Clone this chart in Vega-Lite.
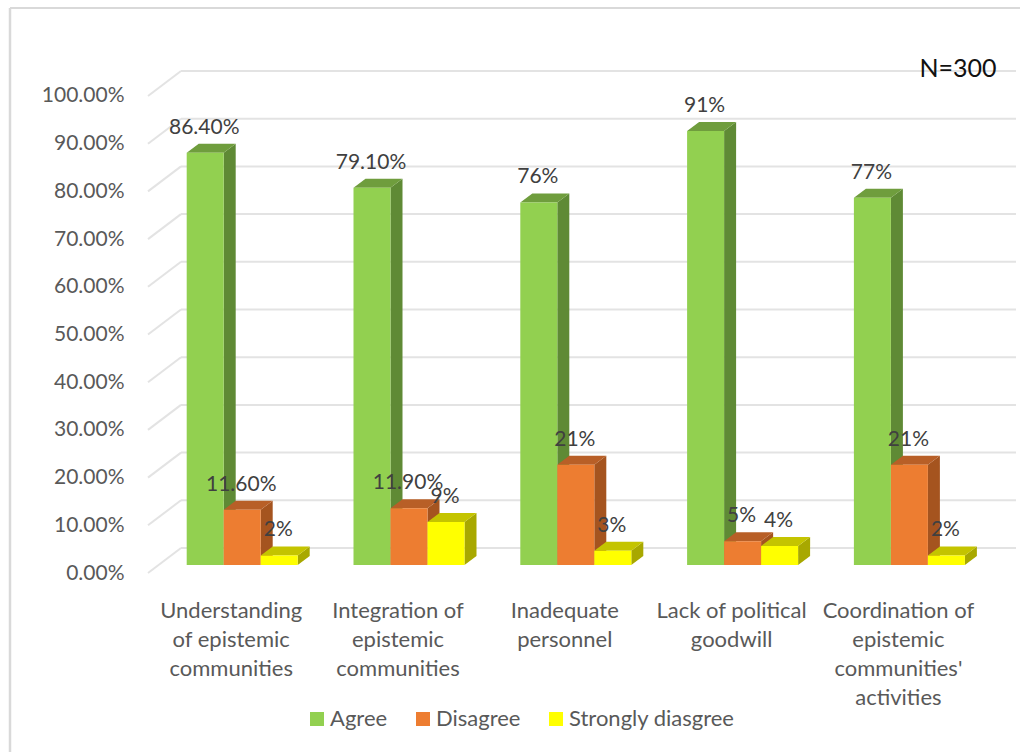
{
  "$schema": "https://vega.github.io/schema/vega-lite/v6.json",
  "width": 868,
  "height": 502,
  "autosize": "none",
  "padding": {"left": 148, "top": 71, "right": 4, "bottom": 180},
  "background": "#ffffff",
  "config": {"view": {"stroke": null}, "font": "Lato"},
  "datasets": {
    "ticks": [
      {"tick": 0}, {"tick": 10}, {"tick": 20}, {"tick": 30}, {"tick": 40}, {"tick": 50},
      {"tick": 60}, {"tick": 70}, {"tick": 80}, {"tick": 90}, {"tick": 100}
    ],
    "shares": [
      {"issue": "Understanding\nof epistemic\ncommunities", "response": "Agree", "share": 86.4, "label": "86.40%"},
      {"issue": "Understanding\nof epistemic\ncommunities", "response": "Disagree", "share": 11.6, "label": "11.60%"},
      {"issue": "Understanding\nof epistemic\ncommunities", "response": "Strongly diasgree", "share": 2, "label": "2%"},
      {"issue": "Integration of\nepistemic\ncommunities", "response": "Agree", "share": 79.1, "label": "79.10%"},
      {"issue": "Integration of\nepistemic\ncommunities", "response": "Disagree", "share": 11.9, "label": "11.90%"},
      {"issue": "Integration of\nepistemic\ncommunities", "response": "Strongly diasgree", "share": 9, "label": "9%"},
      {"issue": "Inadequate\npersonnel", "response": "Agree", "share": 76, "label": "76%"},
      {"issue": "Inadequate\npersonnel", "response": "Disagree", "share": 21, "label": "21%"},
      {"issue": "Inadequate\npersonnel", "response": "Strongly diasgree", "share": 3, "label": "3%"},
      {"issue": "Lack of political\ngoodwill", "response": "Agree", "share": 91, "label": "91%"},
      {"issue": "Lack of political\ngoodwill", "response": "Disagree", "share": 5, "label": "5%"},
      {"issue": "Lack of political\ngoodwill", "response": "Strongly diasgree", "share": 4, "label": "4%"},
      {"issue": "Coordination of\nepistemic\ncommunities'\nactivities", "response": "Agree", "share": 77, "label": "77%"},
      {"issue": "Coordination of\nepistemic\ncommunities'\nactivities", "response": "Disagree", "share": 21, "label": "21%"},
      {"issue": "Coordination of\nepistemic\ncommunities'\nactivities", "response": "Strongly diasgree", "share": 2, "label": "2%"}
    ]
  },
  "data": {"name": "shares"},
  "transform": [
    {"calculate": "indexof(['Und','Int','Ina','Lac','Coo'], substring(datum.issue, 0, 3))", "as": "group"},
    {"calculate": "indexof(['Agree','Disagree','Strongly diasgree'], datum.response)", "as": "slot"},
    {"calculate": "38.7 + 166.8 * datum.group + 37 * datum.slot", "as": "left"},
    {"calculate": "datum.left + 37", "as": "right"},
    {"calculate": "1.677", "as": "floor"},
    {"calculate": "datum.floor + datum.share", "as": "top"},
    {"calculate": "datum.issue + datum.response", "as": "bar"}
  ],
  "layer": [
    {
      "data": {"name": "ticks"},
      "transform": [{"calculate": "datum.tick + 5.24", "as": "wall"}],
      "mark": {"type": "rule", "stroke": "#e3e3e3", "strokeWidth": 2},
      "encoding": {
        "x": {"datum": 0, "type": "quantitative", "scale": {"domain": [0, 868], "nice": false, "zero": false}, "axis": null},
        "x2": {"datum": 33},
        "y": {
          "field": "tick", "type": "quantitative",
          "scale": {"domain": [0, 105.24], "nice": false, "zero": false},
          "axis": {
            "title": null, "domain": false, "ticks": false, "grid": false,
            "values": [0, 10, 20, 30, 40, 50, 60, 70, 80, 90, 100],
            "labelExpr": "format(datum.value, '.2f') + '%'",
            "labelFont": "Lato", "labelFontSize": 21, "labelColor": "#595959", "labelPadding": 24
          }
        },
        "y2": {"field": "wall"}
      }
    },
    {
      "data": {"name": "ticks"},
      "transform": [{"calculate": "datum.tick + 5.24", "as": "wall"}],
      "mark": {"type": "rule", "stroke": "#e3e3e3", "strokeWidth": 2},
      "encoding": {
        "x": {"datum": 33, "type": "quantitative"},
        "x2": {"datum": 868},
        "y": {"field": "wall", "type": "quantitative"}
      }
    },
    {
      "data": {"values": [{"edge": "top"}]},
      "mark": {"type": "rule", "stroke": "#d9d9d9", "strokeWidth": 2, "clip": false},
      "encoding": {
        "x": {"datum": -138, "type": "quantitative"},
        "x2": {"datum": 872},
        "y": {"datum": 118.45, "type": "quantitative"}
      }
    },
    {
      "data": {"values": [{"edge": "left"}]},
      "mark": {"type": "rule", "stroke": "#d9d9d9", "strokeWidth": 2.5, "clip": false},
      "encoding": {
        "x": {"datum": -138, "type": "quantitative"},
        "y": {"datum": 118.45, "type": "quantitative"},
        "y2": {"datum": -37.5}
      }
    },
    {
      "transform": [
        {"calculate": "[0, 1]", "as": "depth"},
        {"flatten": ["depth"]},
        {"calculate": "datum.right + 12 * datum.depth", "as": "sx"},
        {"calculate": "datum.floor + 1.887 * datum.depth", "as": "sy"},
        {"calculate": "datum.top + 1.887 * datum.depth", "as": "sy2"}
      ],
      "mark": {"type": "area", "orient": "vertical"},
      "encoding": {
        "x": {"field": "sx", "type": "quantitative"},
        "y": {"field": "sy", "type": "quantitative"},
        "y2": {"field": "sy2"},
        "detail": {"field": "bar"},
        "color": {
          "field": "response", "type": "nominal", "legend": null,
          "scale": {"domain": ["Agree", "Disagree", "Strongly diasgree"], "range": ["#5f8a35", "#a5541f", "#a8a800"]}
        }
      }
    },
    {
      "transform": [
        {"calculate": "[0, 1]", "as": "depth"},
        {"flatten": ["depth"]},
        {"calculate": "datum.left + 12 * datum.depth", "as": "tx"},
        {"calculate": "datum.right + 12 * datum.depth", "as": "tx2"},
        {"calculate": "datum.top + 1.887 * datum.depth", "as": "ty"}
      ],
      "mark": {"type": "area", "orient": "horizontal"},
      "encoding": {
        "y": {"field": "ty", "type": "quantitative"},
        "x": {"field": "tx", "type": "quantitative"},
        "x2": {"field": "tx2"},
        "detail": {"field": "bar"},
        "color": {
          "field": "response", "type": "nominal", "legend": null,
          "scale": {"domain": ["Agree", "Disagree", "Strongly diasgree"], "range": ["#6f9d3d", "#b85f27", "#c4c400"]}
        }
      }
    },
    {
      "mark": {"type": "rect"},
      "encoding": {
        "x": {"field": "left", "type": "quantitative"},
        "x2": {"field": "right"},
        "y": {"field": "floor", "type": "quantitative"},
        "y2": {"field": "top"},
        "color": {
          "field": "response", "type": "nominal",
          "scale": {"domain": ["Agree", "Disagree", "Strongly diasgree"], "range": ["#92d050", "#ed7d31", "#ffff00"]},
          "legend": {
            "title": null, "orient": "none", "direction": "horizontal", "columns": 3,
            "legendX": 158, "legendY": 637, "symbolType": "square", "symbolSize": 196,
            "symbolStrokeWidth": 0, "labelFont": "Lato", "labelFontSize": 22, "labelColor": "#595959",
            "labelOffset": 2, "labelLimit": 400, "columnPadding": 24, "padding": 0
          }
        }
      }
    },
    {
      "mark": {"type": "text", "fontSize": 21, "color": "#404040", "baseline": "middle", "align": "center", "dy": -25, "dx": 17.5, "clip": false},
      "encoding": {
        "x": {"field": "left", "type": "quantitative"},
        "y": {"field": "top", "type": "quantitative"},
        "text": {"field": "label"}
      }
    },
    {
      "transform": [{"filter": "datum.slot === 0"}],
      "mark": {"type": "text", "fontSize": 22, "color": "#595959", "baseline": "middle", "align": "center", "dx": 44.5, "dy": 38, "lineBreak": "\n", "lineHeight": 29, "clip": false},
      "encoding": {
        "x": {"field": "left", "type": "quantitative"},
        "y": {"datum": 0, "type": "quantitative"},
        "text": {"field": "issue"}
      }
    },
    {
      "data": {"values": [{"note": "N=300"}]},
      "mark": {"type": "text", "fontSize": 25, "color": "#111111", "baseline": "middle", "align": "center"},
      "encoding": {
        "x": {"datum": 810, "type": "quantitative"},
        "y": {"datum": 105.7, "type": "quantitative"},
        "text": {"field": "note"}
      }
    }
  ],
  "resolve": {"scale": {"color": "independent"}}
}
